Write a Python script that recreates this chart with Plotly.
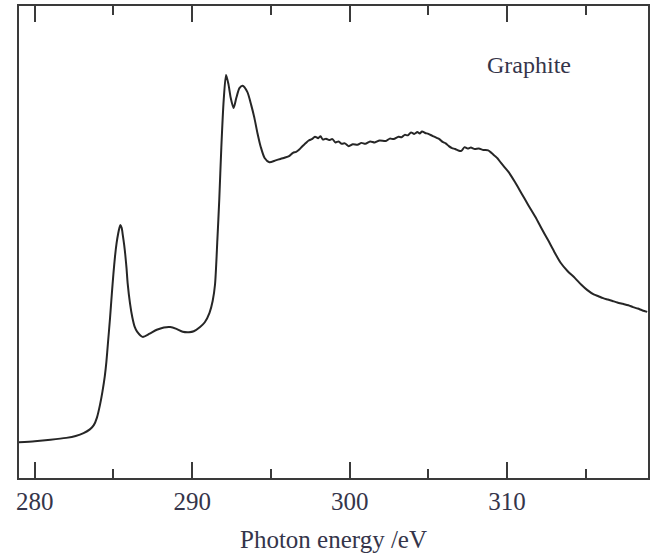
import plotly.graph_objects as go

energy = [279.0, 280.0, 281.0, 282.0, 282.6, 283.1, 283.5, 283.75, 283.95, 284.15,
          284.3, 284.45, 284.55, 284.65, 284.78, 284.9, 285.0, 285.1, 285.2, 285.3,
          285.38, 285.44, 285.52, 285.6, 285.68, 285.75, 285.83, 285.9, 286.05, 286.2,
          286.35, 286.5, 286.85, 287.3, 287.75, 288.2, 288.6, 289.0, 289.4, 289.8,
          290.1, 290.5, 290.8, 291.1, 291.3, 291.45, 291.6, 291.72, 291.85, 292.0,
          292.15, 292.3, 292.45, 292.63, 292.8, 293.0, 293.2, 293.5, 293.75, 293.95,
          294.15, 294.35, 294.6, 294.9, 295.3, 295.6, 295.9, 296.15, 296.4, 296.6,
          296.8, 297.0, 297.2, 297.4, 297.6, 297.8, 298.0, 298.15, 298.3, 298.5,
          298.7, 298.9, 299.1, 299.3, 299.5, 299.7, 299.95, 300.2, 300.5, 300.75,
          301.0, 301.3, 301.6, 301.9, 302.3, 302.55, 302.8, 303.1, 303.3, 303.5,
          303.7, 303.9, 304.1, 304.3, 304.45, 304.6, 304.8, 305.0, 305.25, 305.5,
          305.7, 305.9, 306.1, 306.3, 306.5, 306.7, 306.9, 307.1, 307.3, 307.5,
          307.7, 307.95, 308.2, 308.5, 308.8, 309.0, 309.2, 309.4, 309.6, 309.85,
          310.1, 310.5, 310.9, 311.35, 311.8, 312.2, 312.6, 313.0, 313.4, 313.85,
          314.3, 314.7, 315.1, 315.5, 315.8, 316.1, 316.4, 316.7, 317.0, 317.35,
          317.7, 318.0, 318.3, 318.6, 318.9]

intensity = [7.6, 7.8, 8.1, 8.5, 8.9, 9.5, 10.3, 11.2, 12.8, 15.6,
             18.3, 21.6, 24.6, 28.6, 33.8, 39.2, 43.4, 47.0, 49.8, 51.8,
             53.0, 53.6, 53.0, 51.3, 49.4, 47.3, 44.4, 41.3, 37.0, 34.0,
             32.0, 31.0, 29.9, 30.6, 31.4, 31.9, 32.0, 31.6, 31.0, 30.9,
             31.1, 32.0, 33.0, 35.0, 37.5, 41.0, 50.5, 59.0, 70.0, 80.0,
             85.4, 83.5, 80.5, 78.4, 80.5, 82.6, 83.1, 81.8, 79.0, 76.3,
             73.0, 70.2, 67.8, 66.9, 67.3, 67.6, 67.9, 68.2, 68.9, 69.1,
             69.6, 70.3, 70.9, 71.5, 71.8, 72.3, 72.0, 72.4, 71.7, 71.9,
             71.6, 71.8, 71.1, 71.3, 70.8, 70.9, 70.3, 70.7, 70.6, 71.0,
             70.8, 71.3, 71.1, 71.5, 71.4, 71.9, 71.8, 72.3, 72.2, 72.7,
             72.6, 73.2, 72.9, 73.3, 73.0, 73.4, 73.1, 72.9, 72.5, 72.1,
             71.8, 71.2, 70.9, 70.3, 69.9, 69.7, 69.4, 69.3, 70.1, 69.8,
             70.0, 69.7, 69.8, 69.5, 69.4, 68.9, 68.3, 67.7, 66.8, 65.8,
             64.8, 62.7, 60.4, 57.8, 55.3, 52.8, 50.4, 47.9, 45.6, 43.8,
             42.4, 41.0, 39.8, 38.9, 38.5, 38.1, 37.8, 37.5, 37.2, 36.9,
             36.6, 36.2, 35.9, 35.5, 35.2]

major_ticks = [280, 290, 300, 310]
tick_text = ["280", "290", "300", "310"]
x_range = [279.0, 318.95]
y_range = [0, 100]
label_text = "Graphite"
x_title = "Photon energy /eV"

FONT = "Liberation Serif, Times New Roman, serif"
AX = "#3a3a3a"
TXT = "#35354a"

fig = go.Figure()
fig.add_trace(go.Scatter(
    x=energy, y=intensity, mode="lines",
    line=dict(color="#262626", width=2, shape="spline", smoothing=0.7),
    showlegend=False, hoverinfo="skip"))

fig.add_annotation(x=311.4, y=87.5, text=label_text, showarrow=False,
                   font=dict(family=FONT, size=24, color=TXT),
                   xanchor="center", yanchor="middle")

fig.update_xaxes(
    range=x_range, tickmode="array", tickvals=major_ticks, ticktext=tick_text,
    ticks="inside", ticklen=16, tickwidth=2, tickcolor=AX,
    minor=dict(dtick=5, tick0=280, ticks="inside", ticklen=9, tickwidth=2, tickcolor=AX),
    showline=True, linecolor=AX, linewidth=2, mirror="ticks",
    showgrid=False, zeroline=False,
    tickfont=dict(family=FONT, size=25, color=TXT),
    title=dict(text=x_title, font=dict(family=FONT, size=25, color=TXT), standoff=16),
)
fig.update_yaxes(
    range=y_range, showticklabels=False, ticks="",
    showline=True, linecolor=AX, linewidth=2, mirror=True,
    showgrid=False, zeroline=False,
)
fig.update_layout(
    width=654, height=560,
    margin=dict(l=19, r=4, t=6, b=82),
    paper_bgcolor="white", plot_bgcolor="white",
)
fig.write_html("out.html")
